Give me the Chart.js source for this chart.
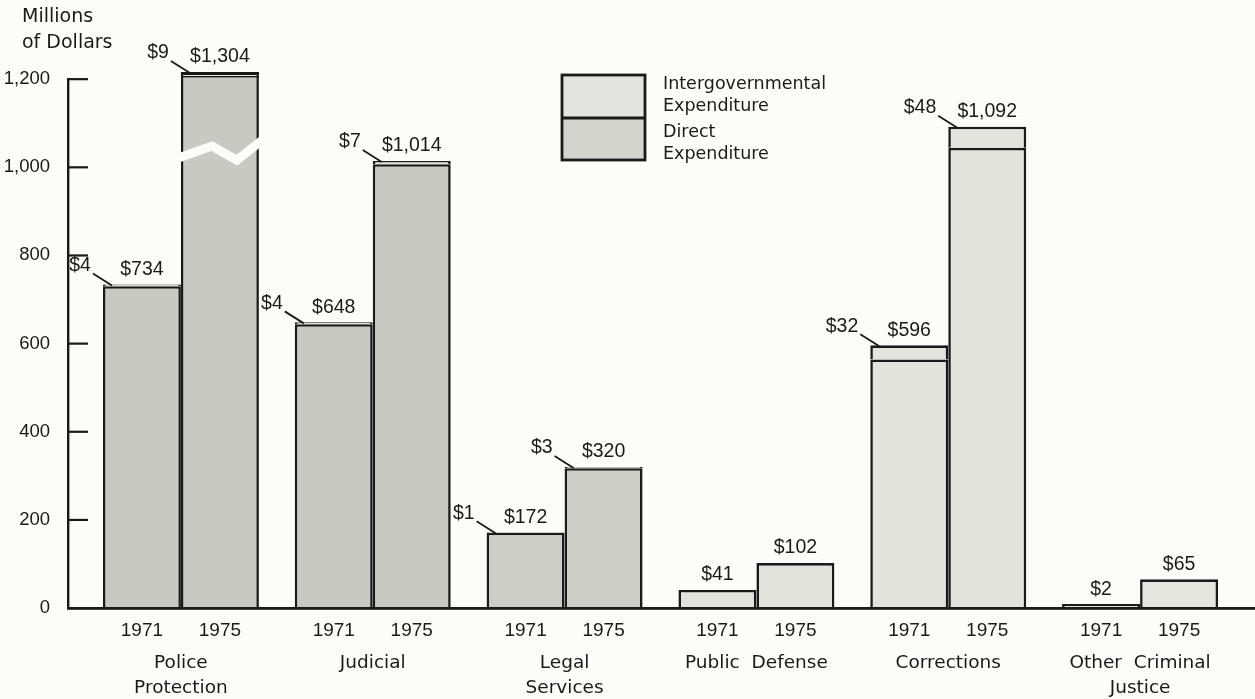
<!DOCTYPE html>
<html><head><meta charset="utf-8">
<script src="https://cdn.jsdelivr.net/npm/chart.js@4/dist/chart.umd.min.js"></script>
<style>html,body{margin:0;padding:0;background:#fcfcf8;overflow:hidden}</style>
</head><body>
<canvas id="c" width="1255" height="699"></canvas>
<script>
// ---- data ----
const categories = [['Police','Protection'], ['Judicial'], ['Legal','Services'], ['Public  Defense'], ['Corrections'], ['Other  Criminal','Justice']];
const years = ['1971', '1975'];
const total1971 = [734, 648, 172, 41, 596, 2];
const total1975 = [1304, 1014, 320, 102, 1092, 65];
const intergov1971 = [4, 4, 1, 0, 32, 0];
const intergov1975 = [9, 7, 3, 0, 48, 0];
const yTicks = [0, 200, 400, 600, 800, 1000, 1200];
const seriesNames = ['Intergovernmental Expenditure', 'Direct Expenditure'];
const yAxisTitle = ['Millions', 'of Dollars'];

const direct1971 = total1971.map((t, i) => t - intergov1971[i]);
const direct1975 = total1975.map((t, i) => t - intergov1975[i]);
const totals = [total1971, total1975];
const intergovs = [intergov1971, intergov1975];

// ---- styles ----
const INK = '#1a1a1a';
const NUMFONT = '"Liberation Sans", Arial, sans-serif';
const WORDFONT = '"DejaVu Sans", sans-serif';
const directColors = ['#c9c9c3', '#c9c9c3', '#cdcdc7', '#e3e3dd', '#e3e3dd', '#e6e6e0'];
const intergovColor = '#e4e4de';

function ds(label, stack, data, colors, minLen) {
  return {label, stack, data, backgroundColor: colors, borderColor: INK, borderWidth: 2.6,
          borderSkipped: 'start', inflateAmount: 0, categoryPercentage: 0.813, barPercentage: 1.0,
          minBarLength: minLen};
}

const fmt = v => '$' + v.toLocaleString('en-US');

const decor = {
  id: 'decor',
  afterDatasetsDraw(chart) {
    const {ctx, chartArea: ca, scales: {x, y}} = chart;
    const y0 = y.getPixelForValue(0);
    const axisX = ca.left - 17;
    ctx.save();
    // clipped (broken) bars: top edge and zigzag break
    for (let s = 0; s < 2; s++) {
      const meta = chart.getDatasetMeta(s * 2);
      meta.data.forEach((bar, i) => {
        if (totals[s][i] > y.max) {
          const l = bar.x - bar.width / 2, r = bar.x + bar.width / 2;
          ctx.fillStyle = INK;
          ctx.fillRect(l, ca.top, r - l, 3);
          ctx.fillStyle = intergovColor;
          ctx.fillRect(l + 2.6, ca.top + 3, r - l - 5.2, 1);
          ctx.fillStyle = INK;
          ctx.fillRect(l, ca.top + 4, r - l, 1.4);
          ctx.strokeStyle = '#fcfcf8';
          ctx.lineWidth = 9;
          ctx.lineJoin = 'miter';
          ctx.beginPath();
          ctx.moveTo(l - 4, y.getPixelForValue(1020));
          ctx.lineTo(l + 31, y.getPixelForValue(1048));
          ctx.lineTo(l + 56, y.getPixelForValue(1016));
          ctx.lineTo(r + 7, y.getPixelForValue(1068));
          ctx.stroke();
        }
      });
    }
    // axes
    ctx.fillStyle = INK;
    ctx.fillRect(axisX - 1, y.getPixelForValue(1200) - 1, 2.4, y0 - y.getPixelForValue(1200) + 2);
    ctx.fillRect(axisX - 1, y0 - 1, chart.width - axisX + 1, 2.8);
    yTicks.forEach(v => { if (v > 0) ctx.fillRect(axisX, y.getPixelForValue(v) - 1, 20, 2.2); });

    // value labels
    ctx.textBaseline = 'middle';
    for (let s = 0; s < 2; s++) {
      const meta = chart.getDatasetMeta(s * 2);
      meta.data.forEach((bar, i) => {
        const t = totals[s][i];
        const top = Math.max(Math.min(y.getPixelForValue(t), y0 - 3), ca.top);
        const left = bar.x - bar.width / 2;
        ctx.fillStyle = INK;
        ctx.font = '19.5px ' + NUMFONT;
        ctx.textAlign = 'center';
        ctx.fillText(fmt(t), bar.x, top - 15);
        const ig = intergovs[s][i];
        if (ig > 0) {
          ctx.textAlign = 'right';
          ctx.fillText(fmt(ig), left - 12, top - 19);
          ctx.strokeStyle = INK;
          ctx.lineWidth = 1.8;
          ctx.beginPath();
          ctx.moveTo(left - 10, top - 11);
          ctx.lineTo(left + 9, top + 1);
          ctx.stroke();
        }
        ctx.textAlign = 'center';
        ctx.font = '19px ' + NUMFONT;
        ctx.fillText(years[s], bar.x, y0 + 23);
      });
    }

    // y axis title
    ctx.font = '19px ' + WORDFONT;
    ctx.textAlign = 'left';
    ctx.fillStyle = INK;
    ctx.fillText(yAxisTitle[0], 22, 17);
    ctx.fillText(yAxisTitle[1], 22, 43);

    // legend
    const lx = 562, ly = 75, lw = 83, lh = 85, mid = 118;
    ctx.fillStyle = '#e3e3df';
    ctx.fillRect(lx, ly, lw, mid - ly);
    ctx.fillStyle = '#d3d3ce';
    ctx.fillRect(lx, mid, lw, ly + lh - mid);
    ctx.strokeStyle = INK;
    ctx.lineWidth = 2.8;
    ctx.strokeRect(lx, ly, lw, lh);
    ctx.beginPath(); ctx.moveTo(lx, mid); ctx.lineTo(lx + lw, mid); ctx.stroke();
    ctx.fillStyle = INK;
    ctx.font = '17.5px ' + WORDFONT;
    const w1 = seriesNames[0].split(' '), w2 = seriesNames[1].split(' ');
    ctx.fillText(w1[0], 663, 84);
    ctx.fillText(w1[1], 663, 106);
    ctx.fillText(w2[0], 663, 132);
    ctx.fillText(w2[1], 663, 154);
    ctx.restore();
  }
};

new Chart(document.getElementById('c'), {
  type: 'bar',
  data: {
    labels: categories,
    datasets: [
      ds(seriesNames[1], years[0], direct1971, directColors, 4),
      ds(seriesNames[0], years[0], intergov1971, intergovColor, 0),
      ds(seriesNames[1], years[1], direct1975, directColors, 4),
      ds(seriesNames[0], years[1], intergov1975, intergovColor, 0)
    ]
  },
  options: {
    responsive: false,
    animation: false,
    devicePixelRatio: 1,
    layout: {padding: {top: 72, right: 19, left: 0, bottom: 0}},
    plugins: {legend: {display: false}, tooltip: {enabled: false}},
    scales: {
      x: {
        stacked: true,
        grid: {display: false, drawTicks: false},
        border: {display: false},
        ticks: {padding: 42.5, color: INK, maxRotation: 0, autoSkip: false,
                font: {family: WORDFONT, size: 18.5, lineHeight: '25px'}},
        afterFit: s => { s.height = 91; }
      },
      y: {
        stacked: true,
        min: 0, max: 1216,
        grid: {display: false, drawTicks: false},
        border: {display: false},
        ticks: {padding: 35, color: INK, font: {family: NUMFONT, size: 18.5},
                callback: v => v.toLocaleString('en-US')},
        afterBuildTicks: s => { s.ticks = yTicks.map(v => ({value: v})); },
        afterFit: s => { s.width = 85; }
      }
    }
  },
  plugins: [decor]
});
</script>
</body></html>
